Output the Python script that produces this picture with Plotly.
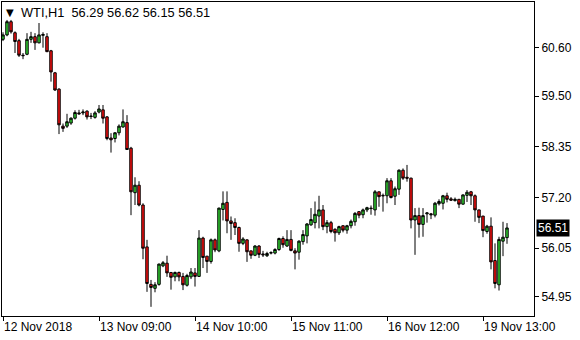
import plotly.graph_objects as go

# ---- data (hourly WTI candles) ----
opens = [60.79, 60.89, 61.19, 60.94, 60.76, 60.43, 60.45, 60.79, 60.85, 60.71,
         60.88, 60.85, 60.53, 60.03, 59.66, 58.82, 58.82, 58.89, 59.00, 59.12,
         59.12, 59.16, 59.05, 59.02, 59.14, 59.19, 59.03, 58.55, 58.54, 58.67,
         58.80, 58.90, 58.32, 57.31, 57.48, 57.03, 56.08, 55.23, 55.14, 55.23,
         55.65, 55.71, 55.50, 55.40, 55.50, 55.41, 55.21, 55.40, 55.49, 55.41,
         56.28, 55.87, 55.75, 56.24, 55.99, 56.93, 57.09, 56.67, 56.63, 56.52,
         56.16, 56.24, 55.99, 55.89, 56.10, 55.92, 55.88, 55.94, 55.94, 56.02,
         56.27, 56.10, 56.25, 55.99, 55.96, 56.20, 56.33, 56.58, 56.63, 56.78,
         56.92, 56.54, 56.63, 56.48, 56.40, 56.56, 56.46, 56.56, 56.65, 56.88,
         56.81, 56.92, 56.96, 56.92, 57.33, 57.25, 57.24, 57.58, 57.23, 57.39,
         57.82, 57.66, 57.64, 56.69, 56.79, 56.59, 56.83, 56.83, 56.80, 57.06,
         57.07, 57.24, 57.17, 57.13, 57.16, 57.05, 57.25, 57.33, 57.24, 56.92,
         56.78, 56.43, 56.55, 55.77, 55.22, 56.21, 56.29]
highs = [60.95, 61.23, 61.23, 60.97, 60.80, 60.48, 60.93, 60.96, 60.93, 61.16,
         60.95, 60.93, 60.55, 60.05, 59.68, 58.88, 59.10, 59.02, 59.18, 59.19,
         59.20, 59.18, 59.12, 59.16, 59.30, 59.30, 59.05, 58.66, 58.68, 58.86,
         59.20, 59.07, 58.35, 57.66, 57.57, 57.07, 56.24, 55.33, 55.28, 55.70,
         55.76, 55.88, 55.50, 55.52, 55.52, 55.49, 55.47, 55.60, 55.60, 56.46,
         56.31, 55.87, 56.27, 56.27, 56.97, 57.34, 57.34, 56.77, 56.73, 56.54,
         56.30, 56.25, 55.99, 56.12, 56.12, 55.99, 55.97, 55.98, 56.05, 56.29,
         56.32, 56.46, 56.46, 56.05, 56.23, 56.46, 56.62, 56.96, 57.11, 57.24,
         57.03, 56.69, 56.67, 56.50, 56.56, 56.57, 56.58, 56.70, 56.87, 56.89,
         56.95, 56.99, 57.02, 57.37, 57.33, 57.29, 57.64, 57.64, 57.45, 57.84,
         57.86, 57.94, 57.65, 56.96, 56.97, 56.96, 56.87, 56.85, 57.10, 57.16,
         57.26, 57.31, 57.21, 57.20, 57.16, 57.27, 57.37, 57.35, 57.27, 56.92,
         56.78, 56.58, 56.75, 56.16, 56.31, 56.65, 56.62]
lows = [60.75, 60.86, 60.92, 60.48, 60.39, 60.34, 60.43, 60.71, 60.55, 60.70,
        60.60, 60.50, 59.83, 59.62, 58.64, 58.69, 58.78, 58.85, 58.97, 59.08,
        59.07, 58.97, 58.98, 58.99, 59.11, 58.88, 58.50, 58.22, 58.45, 58.61,
        58.79, 58.28, 56.80, 57.03, 57.00, 55.80, 55.06, 54.72, 55.05, 55.20,
        55.62, 55.40, 55.11, 55.30, 55.30, 55.10, 55.18, 55.35, 55.18, 55.40,
        55.60, 55.49, 55.70, 55.96, 55.96, 56.68, 56.39, 56.24, 56.35, 55.97,
        56.12, 55.74, 55.81, 55.87, 55.83, 55.85, 55.85, 55.91, 55.91, 55.99,
        56.06, 56.08, 55.98, 55.57, 55.79, 56.13, 56.16, 56.56, 56.50, 56.50,
        56.46, 56.39, 56.39, 56.20, 56.35, 56.41, 56.38, 56.50, 56.56, 56.73,
        56.73, 56.87, 56.81, 56.79, 56.99, 56.88, 57.07, 57.18, 57.03, 57.26,
        57.60, 57.56, 56.50, 55.90, 56.29, 56.31, 56.63, 56.71, 56.75, 57.02,
        56.93, 57.09, 57.12, 57.11, 56.96, 57.04, 57.10, 57.03, 56.65, 56.62,
        56.30, 56.38, 55.57, 55.14, 55.09, 55.87, 56.15]
closes = [60.89, 61.19, 60.96, 60.74, 60.43, 60.42, 60.79, 60.85, 60.71, 60.89,
          60.90, 60.51, 60.05, 59.64, 58.85, 58.77, 58.92, 59.00, 59.13, 59.10,
          59.14, 59.03, 59.04, 59.12, 59.21, 59.00, 58.54, 58.51, 58.67, 58.82,
          58.92, 58.29, 57.33, 57.48, 57.03, 56.05, 55.25, 55.16, 55.22, 55.69,
          55.72, 55.49, 55.39, 55.50, 55.40, 55.22, 55.43, 55.51, 55.41, 56.28,
          55.84, 55.75, 56.24, 56.01, 56.96, 57.07, 56.67, 56.61, 56.52, 56.16,
          56.26, 55.97, 55.89, 56.10, 55.91, 55.90, 55.93, 55.95, 56.02, 56.27,
          56.13, 56.25, 56.00, 55.94, 56.21, 56.36, 56.60, 56.70, 56.82, 56.92,
          56.54, 56.63, 56.43, 56.40, 56.54, 56.46, 56.56, 56.66, 56.84, 56.80,
          56.92, 56.97, 56.95, 57.33, 57.22, 57.24, 57.58, 57.20, 57.40, 57.82,
          57.64, 57.64, 56.69, 56.79, 56.59, 56.79, 56.85, 56.81, 57.07, 57.11,
          57.24, 57.16, 57.14, 57.16, 57.05, 57.26, 57.32, 57.24, 56.92, 56.75,
          56.45, 56.55, 55.74, 55.25, 56.25, 56.30, 56.51]
bar_index = list(range(len(opens)))

x_tick_pos = [0, 24, 48, 72, 96, 120]
x_tick_labels = ["12 Nov 2018", "13 Nov 09:00", "14 Nov 10:00",
                 "15 Nov 11:00", "16 Nov 12:00", "19 Nov 13:00"]
y_tick_vals = [60.60, 59.50, 58.35, 57.20, 56.05, 54.95]
y_tick_labels = ["60.60", "59.50", "58.35", "57.20", "56.05", "54.95"]
symbol_title = "WTI,H1"
last_price = 56.51

FONT = "Liberation Sans"

fig = go.Figure()
fig.add_trace(go.Candlestick(
    x=bar_index, open=opens, high=highs, low=lows, close=closes,
    increasing=dict(line=dict(color="black", width=1), fillcolor="#33d633"),
    decreasing=dict(line=dict(color="black", width=1), fillcolor="#ff1010"),
    whiskerwidth=0, showlegend=False, hoverinfo="skip",
))

annotations = []
for pos, lab in zip(x_tick_pos, x_tick_labels):
    annotations.append(dict(x=pos, xref="x", y=0, yref="paper", text=lab,
                            showarrow=False, xanchor="left", yanchor="top",
                            yshift=-2, xshift=-1,
                            font=dict(family=FONT, size=12, color="black")))
annotations.append(dict(x=0, xref="paper", y=1, yref="paper", text="▼",
                        showarrow=False, xanchor="left", yanchor="top",
                        xshift=2, yshift=-3,
                        font=dict(family="DejaVu Sans", size=10, color="black")))
annotations.append(dict(x=0, xref="paper", y=1, yref="paper",
                        text=symbol_title + "  " + " ".join(f"{v:.2f}" for v in
                              [opens[-1], highs[-1], lows[-1], closes[-1]]),
                        showarrow=False, xanchor="left", yanchor="top",
                        xshift=17, yshift=-1,
                        font=dict(family=FONT, size=12.8, color="black")))
annotations.append(dict(x=1, xref="paper", y=last_price, yref="y",
                        text=f"{last_price:.2f}", showarrow=False,
                        xanchor="left", yanchor="middle", xshift=2,
                        bgcolor="black", borderpad=1,
                        font=dict(family=FONT, size=12, color="white")))

fig.update_layout(
    width=580, height=340,
    margin=dict(l=2, r=46, t=2, b=24),
    paper_bgcolor="white", plot_bgcolor="white",
    boxgap=0.12,
    annotations=annotations,
    xaxis=dict(range=[-0.25, 132.75], showgrid=False, zeroline=False,
               showline=True, linecolor="black", linewidth=1, mirror=True,
               tickvals=x_tick_pos, ticktext=[""] * len(x_tick_pos),
               ticks="outside", ticklen=4, tickcolor="black",
               rangeslider=dict(visible=False), fixedrange=True),
    yaxis=dict(range=[54.512, 61.637], side="right", showgrid=False,
               zeroline=False, showline=True, linecolor="black", linewidth=1,
               mirror=True, tickvals=y_tick_vals, ticktext=y_tick_labels,
               ticks="outside", ticklen=4, tickcolor="black",
               tickfont=dict(family=FONT, size=12, color="black"),
               fixedrange=True),
)

fig.write_html("out.html")
